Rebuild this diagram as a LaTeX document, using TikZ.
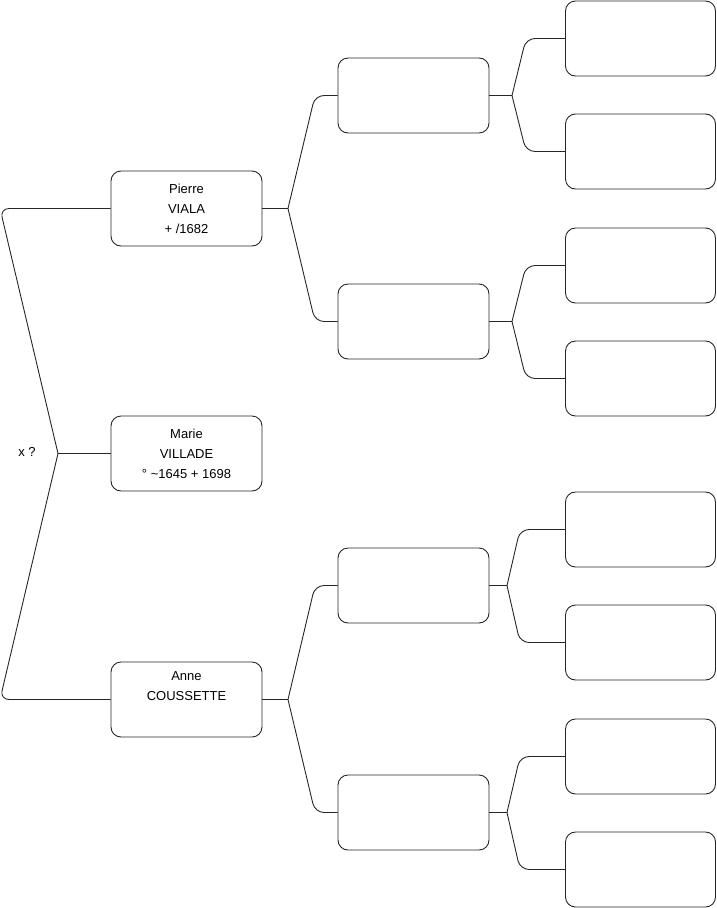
\documentclass[tikz,border=0pt]{standalone}
\usepackage{fontspec}
\setmainfont{Liberation Sans}
\begin{document}
\begin{tikzpicture}[x=1pt,y=-1pt,
  person/.style={draw=black!85, line width=0.9pt, rounded corners=10pt, minimum width=151pt, minimum height=75pt, inner sep=0pt, align=center, font=\fontsize{13}{20}\selectfont},
  link/.style={draw=black!85, line width=0.9pt, rounded corners=9pt}]
\useasboundingbox (0,0) rectangle (716,908);
% generation 1
\node[person] (p) at (186.5,208.5) {Pierre\\VIALA\\+ /1682};
\node[person] (m) at (186.5,453.5) {Marie\\VILLADE\\° \char`\~1645 + 1698};
\node[person] (a) at (186.5,699.5) {Anne\\COUSSETTE\\\strut};
\node[font=\fontsize{13}{14}\selectfont] (x) at (27,452) {x ?};
% generation 2
\node[person] (pf) at (413.5,95.5) {};
\node[person] (pm) at (413.5,321.5) {};
\node[person] (af) at (413.5,585.5) {};
\node[person] (am) at (413.5,812.5) {};
% generation 3
\node[person, minimum width=150pt] (g1) at (640.5,38.5) {};
\node[person, minimum width=150pt] (g2) at (640.5,151.5) {};
\node[person, minimum width=150pt] (g3) at (640.5,265.5) {};
\node[person, minimum width=150pt] (g4) at (640.5,378.5) {};
\node[person, minimum width=150pt] (g5) at (640.5,529.5) {};
\node[person, minimum width=150pt] (g6) at (640.5,642.5) {};
\node[person, minimum width=150pt] (g7) at (640.5,756.5) {};
\node[person, minimum width=150pt] (g8) at (640.5,869.5) {};
% branch points
\coordinate (r) at (58,453.5);
\coordinate (bp) at (288,208.5);
\coordinate (ba) at (288,699.5);
\coordinate (bpf) at (512,95.5);
\coordinate (bpm) at (512,321.5);
\coordinate (baf) at (507,585.5);
\coordinate (bam) at (507,812.5);
% connectors
\draw[link] (m.west) -- (r);
\draw[link] (p.west) -- (0,208.5) -- (r);
\draw[link] (a.west) -- (0,699.5) -- (r);
\draw[link] (p.east) -- (bp);
\draw[link] (pf.west) -- (315,95.5) -- (bp);
\draw[link] (pm.west) -- (315,321.5) -- (bp);
\draw[link] (a.east) -- (ba);
\draw[link] (af.west) -- (315,585.5) -- (ba);
\draw[link] (am.west) -- (315,812.5) -- (ba);
\draw[link] (pf.east) -- (bpf);
\draw[link] (g1.west) -- (526,38.5) -- (bpf);
\draw[link] (g2.west) -- (526,151.5) -- (bpf);
\draw[link] (pm.east) -- (bpm);
\draw[link] (g3.west) -- (526,265.5) -- (bpm);
\draw[link] (g4.west) -- (526,378.5) -- (bpm);
\draw[link] (af.east) -- (baf);
\draw[link] (g5.west) -- (520,529.5) -- (baf);
\draw[link] (g6.west) -- (520,642.5) -- (baf);
\draw[link] (am.east) -- (bam);
\draw[link] (g7.west) -- (520,756.5) -- (bam);
\draw[link] (g8.west) -- (520,869.5) -- (bam);
\end{tikzpicture}
\end{document}
